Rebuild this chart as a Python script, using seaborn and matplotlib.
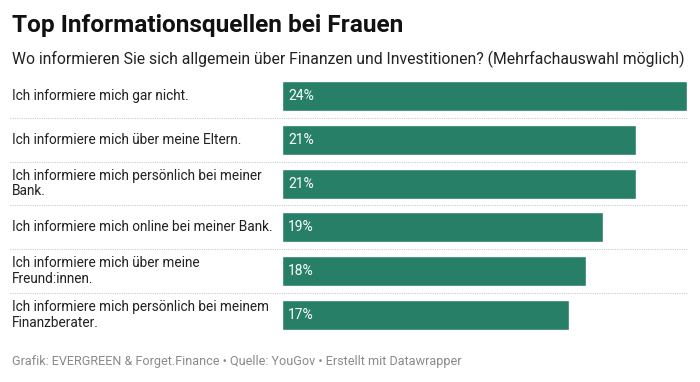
import matplotlib
matplotlib.use('Agg')
import matplotlib.pyplot as plt
import matplotlib.transforms as mtransforms
import seaborn as sns
import pandas as pd

# Daten
antworten = [
    'Ich informiere mich gar nicht.',
    'Ich informiere mich über meine Eltern.',
    'Ich informiere mich persönlich bei meiner\nBank.',
    'Ich informiere mich online bei meiner Bank.',
    'Ich informiere mich über meine\nFreund:innen.',
    'Ich informiere mich persönlich bei meinem\nFinanzberater.',
]
anteile = [24, 21, 21, 19, 18, 17]
wert_labels = ['24%', '21%', '21%', '19%', '18%', '17%']

df = pd.DataFrame({'antwort': antworten, 'anteil': anteile})

sns.set_style('white')
plt.rcParams['font.family'] = ['Roboto', 'DejaVu Sans']

fig = plt.figure(figsize=(7, 3.82), dpi=100)
ax = fig.add_axes([282 / 700, 1 - 336.9 / 382, 405 / 700, (336.9 - 74.1) / 382])

gruen = '#267f66'
sns.barplot(data=df, x='anteil', y='antwort', color=gruen, width=0.685,
            saturation=1, ax=ax, orient='h')

ax.set_xlim(0, 24)
ax.set_ylim(5.5, -0.5)
ax.set_xlabel('')
ax.set_ylabel('')
ax.set_xticks([])
ax.set_yticks([])
for s in ax.spines.values():
    s.set_visible(False)

# Werte in den Balken
for i, lab in enumerate(wert_labels):
    ax.text(0.35, i, lab, color='white', fontsize=10, va='center', ha='left')

# Antworttexte links
trans = mtransforms.blended_transform_factory(fig.transFigure, ax.transData)
for i, txt in enumerate(antworten):
    ax.text(12 / 700, i, txt, transform=trans, fontsize=9.8, color='#222222',
            va='center', ha='left', linespacing=1.15)

# gepunktete Trennlinien
for i in range(5):
    y = i + 0.5
    ax.plot([10 / 700, 687 / 700], [y, y], transform=trans, color='#cccccc',
            linestyle=(0, (1, 1)), linewidth=0.8, clip_on=False)

fig.text(12 / 700, 1 - 32 / 382, 'Top Informationsquellen bei Frauen',
         fontsize=17.6, fontweight='bold', color='#111111', va='baseline', ha='left')
fig.text(12 / 700, 1 - 59 / 382,
         'Wo informieren Sie sich allgemein über Finanzen und Investitionen? (Mehrfachauswahl möglich)',
         fontsize=11.3, color='#222222', va='center', ha='left')
fig.text(12 / 700, 1 - 362 / 382,
         'Grafik: EVERGREEN & Forget.Finance • Quelle: YouGov • Erstellt mit Datawrapper',
         fontsize=9.1, color='#8a8a8a', va='center', ha='left')

fig.savefig('out.png', dpi=100, facecolor='white')
